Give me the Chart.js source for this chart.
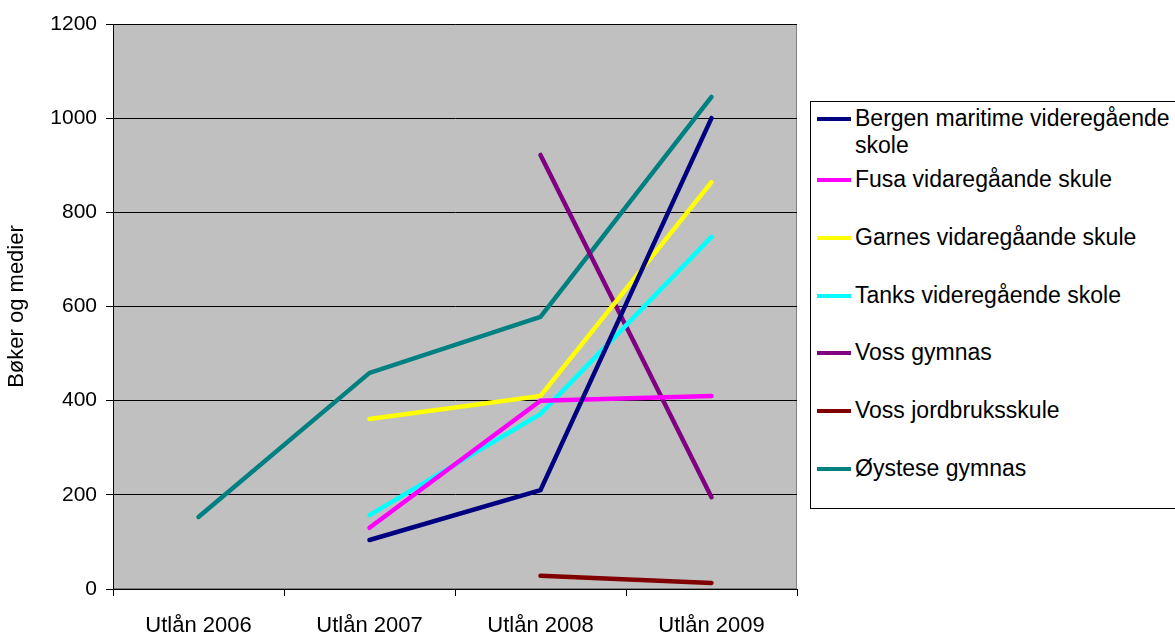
<!DOCTYPE html>
<html><head><meta charset="utf-8">
<script src="https://cdn.jsdelivr.net/npm/chart.js@4"></script>
<style>
html,body{margin:0;padding:0;background:#fff;width:1175px;height:633px;overflow:hidden;font-family:"Liberation Sans",Arial,sans-serif;}
#wrap{position:absolute;left:0;top:0;width:1175px;height:633px;}
#legend{position:absolute;left:810px;top:101px;width:370px;height:408px;border:1px solid #000;box-sizing:border-box;background:#fff;}
.item{position:absolute;left:6px;font-size:23px;line-height:27px;color:#000;}
.sw{position:absolute;left:0;top:11px;width:34px;height:4px;}
.tx{position:absolute;left:38px;top:-1px;width:322px;}
</style></head><body>
<div id="wrap"><canvas id="c" width="1175" height="633"></canvas></div>
<div id="legend"></div>
<script>
const categories = ["Utlån 2006","Utlån 2007","Utlån 2008","Utlån 2009"];
const seriesNames = ["Bergen maritime videregående skole","Fusa vidaregåande skule","Garnes vidaregåande skule","Tanks videregående skole","Voss gymnas","Voss jordbruksskule","Øystese gymnas"];
const seriesColors = ["#000080","#FF00FF","#FFFF00","#00FFFF","#800080","#800000","#008080"];
const bergen = [null,104,210,1000];
const fusa = [null,130,400,410];
const garnes = [null,361,410,864];
const tanks = [null,157,372,748];
const vossGymnas = [null,null,922,195];
const vossJordbruk = [null,null,28,13];
const oystese = [153,459,578,1045];
const yTicks = [0,200,400,600,800,1000,1200];
const yTitle = "Bøker og medier";

const allData = [bergen,fusa,garnes,tanks,vossGymnas,vossJordbruk,oystese];
const datasets = seriesNames.map((n,i)=>({label:n,data:allData[i],borderColor:seriesColors[i],backgroundColor:seriesColors[i],borderWidth:4.5,pointRadius:0,tension:0,spanGaps:false,borderCapStyle:'round'}));

const bg = {id:'bg',beforeDraw(ch){const a=ch.chartArea,c=ch.ctx;c.save();c.fillStyle='#C0C0C0';c.fillRect(a.left,a.top,a.right-a.left,a.bottom-a.top);c.strokeStyle='#808080';c.lineWidth=1;c.strokeRect(a.left+0.5,a.top+0.5,a.right-a.left-1,a.bottom-a.top-1);c.restore();}};

const font = {family:"'Liberation Sans', Arial, sans-serif",size:21};
new Chart(document.getElementById('c'),{
 type:'line',
 data:{labels:categories,datasets},
 options:{responsive:false,animation:false,
  layout:{padding:{top:24,right:378,left:0,bottom:0}},
  plugins:{legend:{display:false},tooltip:{enabled:false}},
  scales:{
   x:{offset:true,grid:{offset:true,drawOnChartArea:false,color:'#000',tickLength:7,tickColor:'#000'},border:{color:'#000',width:1},
      ticks:{color:'#000',font:{family:font.family,size:22},padding:17,maxRotation:0},afterFit(s){s.height=44;}},
   y:{min:0,max:1200,afterBuildTicks(s){s.ticks=yTicks.map(v=>({value:v}));},
      grid:{color:'#000',lineWidth:1,tickLength:7,tickColor:'#000'},border:{color:'#000',width:1},
      ticks:{color:'#000',font,padding:9,callback:v=>String(v)},
      title:{display:true,text:yTitle,color:'#000',font:{family:font.family,size:22},padding:{top:4,bottom:10}},
      afterFit(s){s.width=113;}}
  }
 },
 plugins:[bg]
});

const lg=document.getElementById('legend');
const tops=[4,65,123,181,238,296,354];
seriesNames.forEach((n,i)=>{const d=document.createElement('div');d.className='item';d.style.top=tops[i]+'px';
 d.innerHTML='<div class="sw" style="background:'+seriesColors[i]+'"></div><div class="tx">'+n+'</div>';lg.appendChild(d);});
</script>
</body></html>
